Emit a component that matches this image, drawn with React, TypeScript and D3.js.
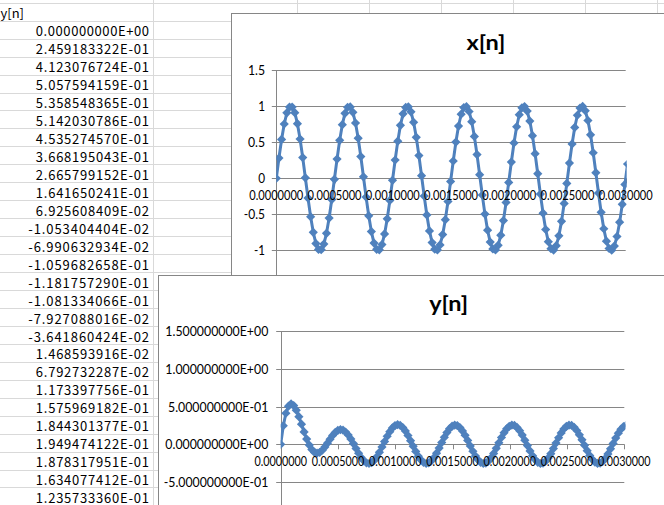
import React, { useEffect } from 'react';
import * as d3 from 'd3';

// ---------- data ----------
const SAMPLE_RATE = 44100; // samples per second (time axis = n / SAMPLE_RATE)

const X_SERIES: number[] = [
  0, 0.281, 0.540, 0.754, 0.909, 0.989, 0.990, 0.911, 0.759, 0.546, 0.288, 0.007, -0.274, -0.534, -0.750, -0.906, -0.988, -0.991, -0.914, -0.764, -0.552, -0.295,
  -0.014, 0.267, 0.528, 0.745, 0.903, 0.987, 0.992, 0.917, 0.768, 0.557, 0.302, 0.021, -0.261, -0.521, -0.740, -0.900, -0.986, -0.993, -0.920, -0.773, -0.563, -0.308,
  -0.028, 0.254, 0.516, 0.736, 0.896, 0.985, 0.994, 0.923, 0.777, 0.569, 0.315, 0.036, -0.247, -0.509, -0.731, -0.893, -0.984, -0.995, -0.926, -0.782, -0.575, -0.322,
  -0.043, 0.240, 0.503, 0.726, 0.890, 0.982, 0.995, 0.928, 0.786, 0.581, 0.329, 0.050, -0.233, -0.497, -0.721, -0.886, -0.981, -0.996, -0.931, -0.790, -0.587, -0.335,
  -0.057, 0.226, 0.491, 0.716, 0.883, 0.979, 0.997, 0.933, 0.795, 0.592, 0.342, 0.064, -0.219, -0.484, -0.711, -0.880, -0.978, -0.997, -0.936, -0.799, -0.598, -0.349,
  -0.071, 0.212, 0.478, 0.706, 0.876, 0.976, 0.998, 0.938, 0.803, 0.604, 0.355, 0.078, -0.205, -0.472, -0.701, -0.873, -0.975, -0.998, -0.941, -0.808, -0.610, -0.362,
  -0.085, 0.198,
];

const Y_SERIES: number[] = [
  0.0, 2.459183322e-1, 4.123076724e-1, 5.057594159e-1, 5.358548365e-1, 5.142030786e-1, 4.535274570e-1,
  3.668195043e-1, 2.665799152e-1, 1.641650241e-1, 6.925608409e-2, -1.053404404e-2, -6.990632934e-2,
  -1.059682658e-1, -1.181757290e-1, -1.081334066e-1, -7.927088016e-2, -3.641860424e-2, 1.468593916e-2,
  6.792732287e-2, 1.173397756e-1, 1.575969182e-1, 1.844301377e-1, 1.949474122e-1, 1.878317951e-1,
  1.634077412e-1, 1.235733360e-1,
  0.071, 0.009, -0.056, -0.119, -0.175, -0.219, -0.246, -0.255, -0.244, -0.214, -0.166, -0.106, -0.036,
  0.036, 0.107, 0.168, 0.217, 0.249, 0.260, 0.252, 0.223, 0.178, 0.117, 0.048, -0.025, -0.095, -0.158,
  -0.208, -0.241, -0.255, -0.248, -0.221, -0.177, -0.118, -0.050, 0.023, 0.093, 0.156, 0.207, 0.241,
  0.255, 0.249, 0.222, 0.178, 0.120, 0.052, -0.021, -0.092, -0.155, -0.206, -0.240, -0.255, -0.249,
  -0.223, -0.180, -0.121, -0.053, 0.019, 0.090, 0.154, 0.205, 0.239, 0.255, 0.250, 0.224, 0.181, 0.123,
  0.055, -0.017, -0.088, -0.152, -0.204, -0.239, -0.255, -0.250, -0.225, -0.182, -0.125, -0.057, 0.016,
  0.087, 0.151, 0.203, 0.238, 0.254, 0.250, 0.226, 0.183, 0.126, 0.059, -0.014, -0.085, -0.149, -0.201,
  -0.237, -0.254, -0.250, -0.227, -0.185, -0.128, -0.060, 0.012, 0.083, 0.148, 0.200, 0.236, 0.254,
];

const SHEET_HEADER = 'y[n]';
const SHEET_ROW_COUNT = 27; // rows of the y[n] column visible in the sheet

const X_TICKS = [0, 0.0005, 0.001, 0.0015, 0.002, 0.0025, 0.003];
const Y_TICKS = [-1.5, -1, -0.5, 0, 0.5, 1, 1.5];

const TITLE_X = 'x[n]';
const TITLE_Y = 'y[n]';

// ---------- helpers ----------
const SERIES_COLOR = '#4F81BD';
const GRID_COLOR = '#868686';
const SHEET_GRID = '#d9d9d9';
const VIEW_H = 505;

function excelSci(v: number): string {
  const s = v.toExponential(9);
  const [m, e] = s.split('e');
  const sign = e[0] === '-' ? '-' : '+';
  const digits = e.replace(/[+-]/, '').padStart(2, '0');
  return `${m}E${sign}${digits}`;
}

const CAL: Record<string, number> = { '.': 0.252, E: 0.488, '+': 0.498, '-': 0.306 };
function calibriWidth(s: string, size: number): number {
  let w = 0;
  for (const c of s) w += CAL[c] ?? 0.507;
  return w * size;
}

function diamond(r: number): string {
  return `M0,${-r}L${r},0L0,${r}L${-r},0Z`;
}

type ChartCfg = {
  id: string;
  left: number;
  top: number;
  title: string;
  titleCx: number;
  titleCy: number;
  titleW: number;
  px0: number;
  px1: number;
  pyTop: number;
  pyBottom: number;
  yLabelRight: number;
  yLabelSize: number;
  yFmt: (v: number) => string;
  xLabelSize: number;
  xLabelWidth: number;
  xLabelOffset: number;
  values: number[];
};

function Chart({ cfg }: { cfg: ChartCfg }) {
  const x = d3.scaleLinear().domain([X_TICKS[0], X_TICKS[X_TICKS.length - 1]]).range([cfg.px0, cfg.px1]);
  const y = d3.scaleLinear().domain([Y_TICKS[0], Y_TICKS[Y_TICKS.length - 1]]).range([cfg.pyBottom, cfg.pyTop]);
  const pts: [number, number][] = cfg.values.map((v, i) => [i / SAMPLE_RATE, v]);
  const line = d3.line<[number, number]>().x((d) => x(d[0])).y((d) => y(d[1]));
  const y0 = y(0);
  const fx = (v: number) => v.toFixed(7);
  const visibleTicks = Y_TICKS.filter((t) => y(t) < VIEW_H - 6);
  return (
    <g>
      <defs>
        <clipPath id={cfg.id}>
          <rect x={cfg.px0} y={cfg.pyTop - 6} width={cfg.px1 - cfg.px0 + 1} height={cfg.pyBottom - cfg.pyTop + 12} />
        </clipPath>
      </defs>
      <rect x={cfg.left + 0.5} y={cfg.top + 0.5} width={800} height={600} fill="#fff" stroke={GRID_COLOR} strokeWidth={1} />
      <text x={cfg.titleCx} y={cfg.titleCy} dy="0.36em" textAnchor="middle" fontWeight="bold" fontSize={20.5} fill="#000"
        textLength={cfg.titleW} lengthAdjust="spacingAndGlyphs">
        {cfg.title}
      </text>
      {Y_TICKS.map((t) => (
        <line key={'g' + t} x1={cfg.px0 - 4.5} x2={cfg.px1} y1={Math.round(y(t)) + 0.5} y2={Math.round(y(t)) + 0.5} stroke={GRID_COLOR} strokeWidth={1} />
      ))}
      <line x1={Math.round(cfg.px0) + 0.5} x2={Math.round(cfg.px0) + 0.5} y1={cfg.pyTop} y2={cfg.pyBottom} stroke={GRID_COLOR} strokeWidth={1} />
      {X_TICKS.map((t) => (
        <line key={'t' + t} x1={Math.round(x(t)) + 0.5} x2={Math.round(x(t)) + 0.5} y1={y0} y2={y0 + 5} stroke={GRID_COLOR} strokeWidth={1} />
      ))}
      {visibleTicks.map((t) => {
        const s = cfg.yFmt(t);
        return (
          <text key={'yl' + t} x={cfg.yLabelRight} y={y(t)} dy="0.35em" textAnchor="end" fontSize={cfg.yLabelSize}
            textLength={calibriWidth(s, cfg.yLabelSize)} lengthAdjust="spacingAndGlyphs" fill="#000">
            {s}
          </text>
        );
      })}
      <g clipPath={`url(#${cfg.id})`}>
        <path d={line(pts) ?? ''} fill="none" stroke={SERIES_COLOR} strokeWidth={3} strokeLinejoin="round" />
        {pts.map((d, i) => (
          <path key={i} d={diamond(4.6)} transform={`translate(${x(d[0])},${y(d[1])})`} fill={SERIES_COLOR} />
        ))}
      </g>
      {X_TICKS.map((t) => {
        const s = fx(t);
        return (
          <text key={'xl' + t} x={x(t)} y={y0 + cfg.xLabelOffset} dy="0.35em" textAnchor="middle" fontSize={cfg.xLabelSize}
            textLength={cfg.xLabelWidth} lengthAdjust="spacingAndGlyphs" fill="#000">
            {s}
          </text>
        );
      })}
    </g>
  );
}

const TOP_CFG: ChartCfg = {
  id: 'clipX',
  left: 231,
  top: 13,
  title: TITLE_X,
  titleCx: 486,
  titleCy: 42.5,
  titleW: 39,
  px0: 276.3,
  px1: 625.7,
  pyTop: 70.3,
  pyBottom: 286.3,
  yLabelRight: 265,
  yLabelSize: 13.5,
  yFmt: (v) => String(v),
  xLabelSize: 13,
  xLabelWidth: 54,
  xLabelOffset: 17.3,
  values: X_SERIES,
};

const BOTTOM_CFG: ChartCfg = {
  id: 'clipY',
  left: 158,
  top: 275,
  title: TITLE_Y,
  titleCx: 448.7,
  titleCy: 303.3,
  titleW: 39,
  px0: 280.7,
  px1: 624.3,
  pyTop: 331.3,
  pyBottom: 557.3,
  yLabelRight: 268.3,
  yLabelSize: 14.06,
  yFmt: excelSci,
  xLabelSize: 12.6,
  xLabelWidth: 52.5,
  xLabelOffset: 17.7,
  values: Y_SERIES,
};

function Sheet() {
  const rowH = 17.95;
  const firstCenter = 31.7;
  const rowLines = d3.range(0, 29).map((j) => Math.round(2.8 + rowH * j) + 0.5);
  const colLines = [153.5, 297.5, 369.5, 441.5, 513.5, 585.5, 657.5];
  const cells = Y_SERIES.slice(0, SHEET_ROW_COUNT);
  return (
    <g>
      {rowLines.map((yy) => (
        <line key={'r' + yy} x1={0} x2={664} y1={yy} y2={yy} stroke={SHEET_GRID} strokeWidth={1} />
      ))}
      {colLines.map((xx) => (
        <line key={'c' + xx} x1={xx} x2={xx} y1={0} y2={505} stroke={SHEET_GRID} strokeWidth={1} />
      ))}
      <text x={0.5} y={firstCenter - rowH} dy="0.36em" fontSize={13} fontFamily="'Noto Sans CJK JP'" fill="#000">
        {SHEET_HEADER}
      </text>
      {cells.map((v, k) => {
        const s = excelSci(v);
        return (
          <text key={k} x={149} y={firstCenter + rowH * k} dy="0.36em" textAnchor="end" fontSize={13}
            fontFamily="'Noto Sans CJK JP'" textLength={s.length * 7.55} lengthAdjust="spacing" fill="#000">
            {s}
          </text>
        );
      })}
    </g>
  );
}

export default function App() {
  useEffect(() => {
    document.body.style.margin = '0';
  }, []);
  return (
    <svg width={664} height={505} style={{ display: 'block', position: 'absolute', left: 0, top: 0 }} fontFamily="Lato">
      <rect width={664} height={505} fill="#fff" />
      <Sheet />
      <Chart cfg={TOP_CFG} />
      <Chart cfg={BOTTOM_CFG} />
    </svg>
  );
}
